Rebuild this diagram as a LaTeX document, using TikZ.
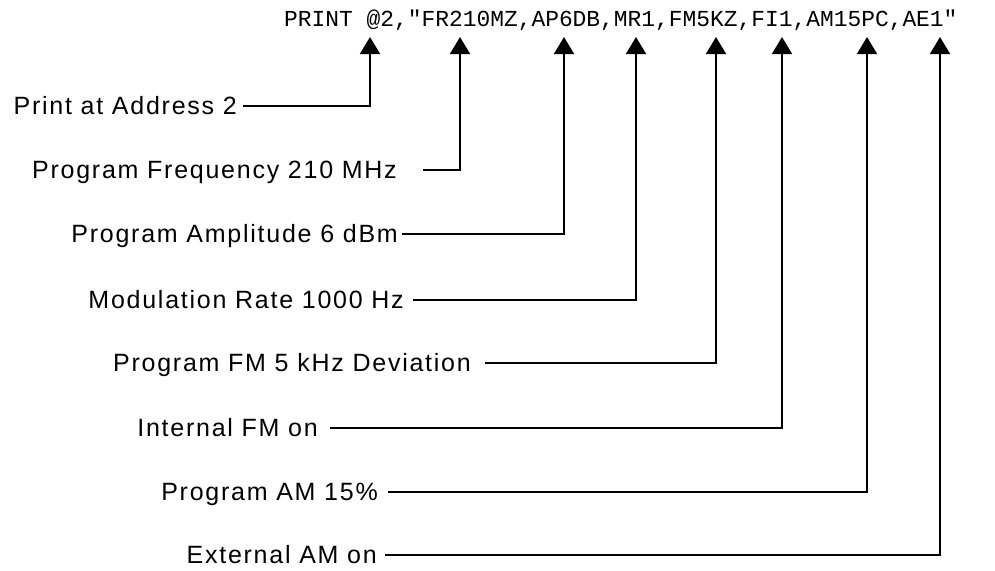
\documentclass[tikz,border=0pt]{standalone}
\usepackage{fontspec}
\setmainfont{Liberation Sans}
\newfontfamily\labfont[LetterSpace=7]{Liberation Sans}
\newfontfamily\codefont[Ligatures=TeXOff]{Liberation Mono}
\usetikzlibrary{arrows.meta}
\begin{document}
\begin{tikzpicture}[x=1pt,y=-1pt,
  lab/.style={font=\labfont\fontsize{25}{28}\selectfont, inner sep=0pt,
    anchor=east, text height=17.9pt, text depth=0pt},
  code/.style={font=\codefont\fontsize{22.9}{26}\selectfont, inner sep=0pt,
    anchor=base west},
  lead/.style={line width=1.7pt, -{Triangle[width=20pt,length=17pt]}}]
\useasboundingbox (0,0) rectangle (995,570);

\node[code] (cmd) at (284,26) {PRINT @2,"FR210MZ,AP6DB,MR1,FM5KZ,FI1,AM15PC,AE1"};

\coordinate (t1) at (370,37);
\coordinate (t2) at (460,37);
\coordinate (t3) at (564,37);
\coordinate (t4) at (636,37);
\coordinate (t5) at (716,37);
\coordinate (t6) at (782,37);
\coordinate (t7) at (867,37);
\coordinate (t8) at (940,37);

\node[lab] (l1) at (237,106) {Print at Address 2};
\node[lab] (l2) at (397,170) {Program Frequency 210 MHz};
\node[lab] (l3) at (398,234) {Program Amplitude 6 dBm};
\node[lab] (l4) at (404,300) {Modulation Rate 1000 Hz};
\node[lab] (l5) at (471,363) {Program FM 5 kHz Deviation};
\node[lab] (l6) at (318,428) {Internal FM on};
\node[lab] (l7) at (378,492) {Program AM 15\%};
\node[lab] (l8) at (377,555) {External AM on};

\draw[lead] ([xshift=6pt]l1.east) -| (t1);
\draw[lead] ([xshift=26pt]l2.east) -| (t2);
\draw[lead] ([xshift=4pt]l3.east) -| (t3);
\draw[lead] ([xshift=9pt]l4.east) -| (t4);
\draw[lead] ([xshift=14pt]l5.east) -| (t5);
\draw[lead] ([xshift=12pt]l6.east) -| (t6);
\draw[lead] ([xshift=10pt]l7.east) -| (t7);
\draw[lead] ([xshift=8pt]l8.east) -| (t8);
\end{tikzpicture}
\end{document}
